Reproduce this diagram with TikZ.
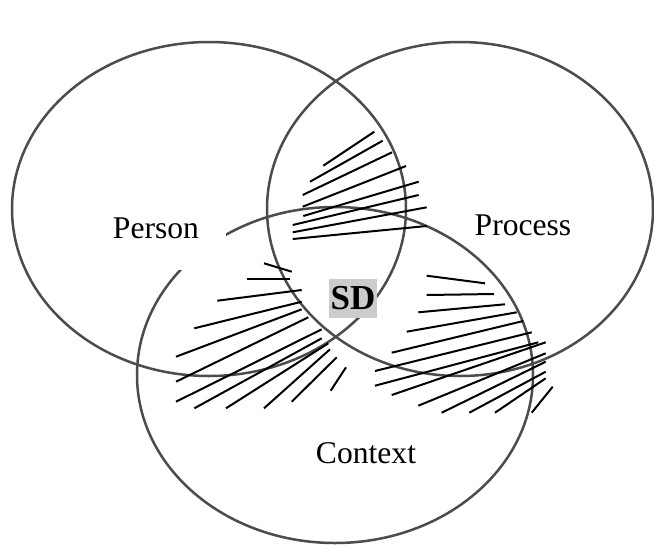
\documentclass[tikz,border=0pt]{standalone}
\usepackage{fontspec}
\setmainfont{Liberation Serif}
\begin{document}
\begin{tikzpicture}[x=1pt,y=-1pt,
  ring/.style={draw=black!70, line width=2.5pt},
  hatch/.style={draw=black, line width=2pt},
  lbl/.style={inner sep=0pt, anchor=base, font=\fontsize{31.6}{38}\selectfont},
  sdbox/.style={fill=black!20, inner sep=0pt, minimum width=48pt, minimum height=39pt, font=\bfseries\fontsize{35}{40}\selectfont}]
\useasboundingbox (0,0) rectangle (654,550);
\fill[white] (0,0) rectangle (654,550);
% ellipses
\draw[ring] (209,209) ellipse [x radius=197pt, y radius=167pt];
\draw[ring] (460,209) ellipse [x radius=193pt, y radius=167pt];
\draw[ring] (335,375) ellipse [x radius=198pt, y radius=168pt];
% upper hatching
\foreach \a/\b/\c/\d in {323.3/165.7/374.3/131.7, 310/181.7/382.7/140.7, 302.7/195/392/152.3, 302.7/206.7/406/166, 303.3/216/418.7/181.7, 292.7/225/418.7/195, 292.7/232.3/426.7/207.3, 292.7/239/426.7/226}
  \draw[hatch] (\a,\b) -- (\c,\d);
% left hatching
\foreach \a/\b/\c/\d in {264/263.3/291.7/271.7, 246.7/279.3/290/279.3, 217.3/300.7/301.7/290, 194.3/328.3/301.7/301.7, 176/356.7/301.7/309.3, 176/381.7/308.3/317.3, 176/401.7/321.7/329.3, 194.3/408.3/321.7/338.3, 226/408.3/328.3/343.3, 264/408.3/330/349.3, 291.7/401.7/336.7/357.3, 330.7/390.7/346/367.3}
  \draw[hatch] (\a,\b) -- (\c,\d);
% right hatching
\foreach \a/\b/\c/\d in {426.7/275.7/485/283.3, 426.7/295/494/294, 418.3/312.3/505/304.3, 406.7/331.7/516.7/312.3, 391.7/352.7/523.3/321, 375/371/531.7/332.3, 375/385.7/538.3/342.3, 391.7/395/545.7/342.3, 418.3/405.7/545.7/353.3, 441.7/412.7/545.7/361.7, 469.3/412.7/545.7/371.7, 495/412.7/545.7/378.3, 531.7/412.7/552.7/386.7}
  \draw[hatch] (\a,\b) -- (\c,\d);
% label backgrounds and labels
\fill[white] (100,197) rectangle (226,270);
\node[lbl] (person) at (156,238) {Person};
\node[lbl] (process) at (523,235) {Process};
\node[lbl] (context) at (366,463) {Context};
\node[sdbox] (sd) at (353,298.5) {SD};
\end{tikzpicture}
\end{document}
